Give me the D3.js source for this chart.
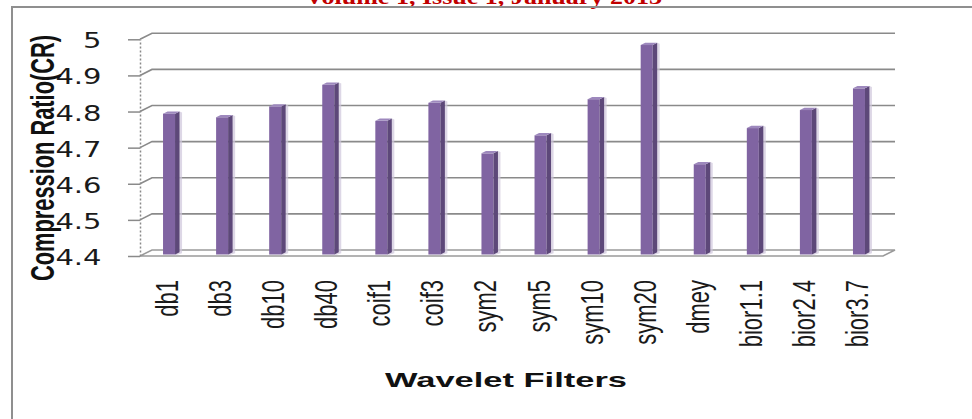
<!DOCTYPE html>
<html>
<head>
<meta charset="utf-8">
<script src="https://cdn.jsdelivr.net/npm/d3@7"></script>
<style>
  html, body { margin: 0; padding: 0; background: #ffffff; }
  svg { display: block; }
</style>
</head>
<body>
<svg id="chart" width="972" height="419"></svg>
<script>
// Compression ratio obtained with each wavelet filter
const categories = ["db1", "db3", "db10", "db40", "coif1", "coif3", "sym2", "sym5",
                    "sym10", "sym20", "dmey", "bior1.1", "bior2.4", "bior3.7"];
const ratios = [4.79, 4.78, 4.81, 4.87, 4.77, 4.82, 4.68, 4.73,
                4.83, 4.98, 4.65, 4.75, 4.80, 4.86];
const yTicks = [4.4, 4.5, 4.6, 4.7, 4.8, 4.9, 5];
const yTickLabels = ["4.4", "4.5", "4.6", "4.7", "4.8", "4.9", "5"];
const headerText = "Volume 1, Issue 1, January 2013";
const yTitle = "Compression Ratio(CR)";
const xTitle = "Wavelet Filters";

const svg = d3.select("#chart");
const SX = 1.45;              // horizontal stretch of the lettering
const DX = 12, DY = -6;       // depth offset of the back wall
const SANS = "'Liberation Sans', Arial, sans-serif";

// page header and frame
svg.append("text")
  .attr("x", 305).attr("y", 4)
  .attr("textLength", 357).attr("lengthAdjust", "spacingAndGlyphs")
  .attr("font-family", "'Liberation Serif', 'Times New Roman', serif")
  .attr("font-weight", "bold").attr("font-size", 20)
  .attr("fill", "#c00000")
  .text(headerText);

svg.append("path")
  .attr("d", "M12,419V7H972")
  .attr("fill", "none").attr("stroke", "#8f8f8f").attr("stroke-width", 2);

const x = d3.scaleBand().domain(categories).range([140, 883]);
const y = d3.scaleLinear().domain([4.4, 5]).range([256, 39.3]);
const plotRight = x.range()[1];

// floor
const y0 = y(4.4);
svg.append("path")
  .attr("d", `M140,${y0}L${plotRight},${y0}L${plotRight + DX},${y0 + DY}L${140 + DX},${y0 + DY}Z`)
  .attr("fill", "#ffffff").attr("stroke", "#9a9a9a").attr("stroke-width", 1.5);

// gridlines on the back wall, joined to the axis by a diagonal
svg.append("g").selectAll("path")
  .data(yTicks.filter(d => d > 4.4))
  .join("path")
  .attr("d", d => `M140,${y(d)}L${140 + DX},${y(d) + DY}L${plotRight + DX},${y(d) + DY}`)
  .attr("fill", "none").attr("stroke", "#8a8a8a").attr("stroke-width", 1.6);

// value axis
const yAxis = svg.append("g")
  .attr("transform", "translate(140,0)")
  .call(d3.axisLeft(y).tickValues(yTicks)
    .tickFormat((d, i) => yTickLabels[i]).tickSize(12).tickSizeOuter(0));
yAxis.select(".domain")
  .attr("stroke", "#8a8a8a").attr("stroke-width", 1.5).attr("stroke-dasharray", "2,2");
yAxis.selectAll(".tick line").attr("stroke", "#8a8a8a").attr("stroke-width", 1.5);
yAxis.selectAll(".tick text")
  .attr("x", null).attr("dy", null)
  .attr("transform", "translate(-38.5,8.5) scale(1.38,1)")
  .attr("text-anchor", "end")
  .attr("font-family", "'DejaVu Sans', Verdana, sans-serif").attr("font-size", 21)
  .attr("fill", "#1a1a1a");

// 3D columns
const FW = 12, BDX = 4.5, BDY = -2.25;
const bars = svg.append("g").selectAll("g")
  .data(categories.map((c, i) => ({ c, v: ratios[i] })))
  .join("g");
const barLeft = d => x(d.c) + x.bandwidth() / 2 - 3.5;
const barTop = d => y(d.v) - 1.5;
const barBot = y(4.4) - 1.5;

bars.append("path") // soft shadow
  .attr("d", d => `M${barLeft(d) + FW + BDX},${barTop(d) + BDY}L${barLeft(d) + FW + BDX + 2.5},${barTop(d) + BDY + 1}L${barLeft(d) + FW + BDX + 2.5},${barBot + BDY + 1}L${barLeft(d) + FW},${barBot + 1}L${barLeft(d) + FW},${barBot}Z`)
  .attr("fill", "#cfc6dc").attr("opacity", 0.7);
bars.append("rect")
  .attr("x", barLeft).attr("y", barTop)
  .attr("width", FW).attr("height", d => barBot - barTop(d))
  .attr("fill", "#8064a2");
bars.append("path")
  .attr("d", d => `M${barLeft(d) + FW},${barTop(d)}L${barLeft(d) + FW + BDX},${barTop(d) + BDY}L${barLeft(d) + FW + BDX},${barBot + BDY}L${barLeft(d) + FW},${barBot}Z`)
  .attr("fill", "#5d4879");
bars.append("path")
  .attr("d", d => `M${barLeft(d)},${barTop(d)}L${barLeft(d) + BDX},${barTop(d) + BDY}L${barLeft(d) + FW + BDX},${barTop(d) + BDY}L${barLeft(d) + FW},${barTop(d)}Z`)
  .attr("fill", "#9d88bd");

// category axis with vertical labels
const xAxis = svg.append("g")
  .call(d3.axisBottom(x).tickSize(0));
xAxis.select(".domain").remove();
xAxis.selectAll(".tick text")
  .attr("y", null).attr("dy", null)
  .attr("transform", `translate(11.5,280) scale(${SX},1) rotate(-90)`)
  .attr("text-anchor", "end")
  .attr("font-family", SANS).attr("font-size", 22).attr("fill", "#1a1a1a");

// axis titles
svg.append("text")
  .attr("transform", `translate(54,158) scale(${SX},1) rotate(-90)`)
  .attr("text-anchor", "middle")
  .attr("textLength", 246).attr("lengthAdjust", "spacingAndGlyphs")
  .attr("font-family", SANS).attr("font-weight", "bold").attr("font-size", 23)
  .attr("fill", "#111")
  .text(yTitle);

svg.append("text")
  .attr("x", 385).attr("y", 387)
  .attr("textLength", 242).attr("lengthAdjust", "spacingAndGlyphs")
  .attr("font-family", SANS).attr("font-weight", "bold").attr("font-size", 21)
  .attr("fill", "#111")
  .text(xTitle);
</script>
</body>
</html>
